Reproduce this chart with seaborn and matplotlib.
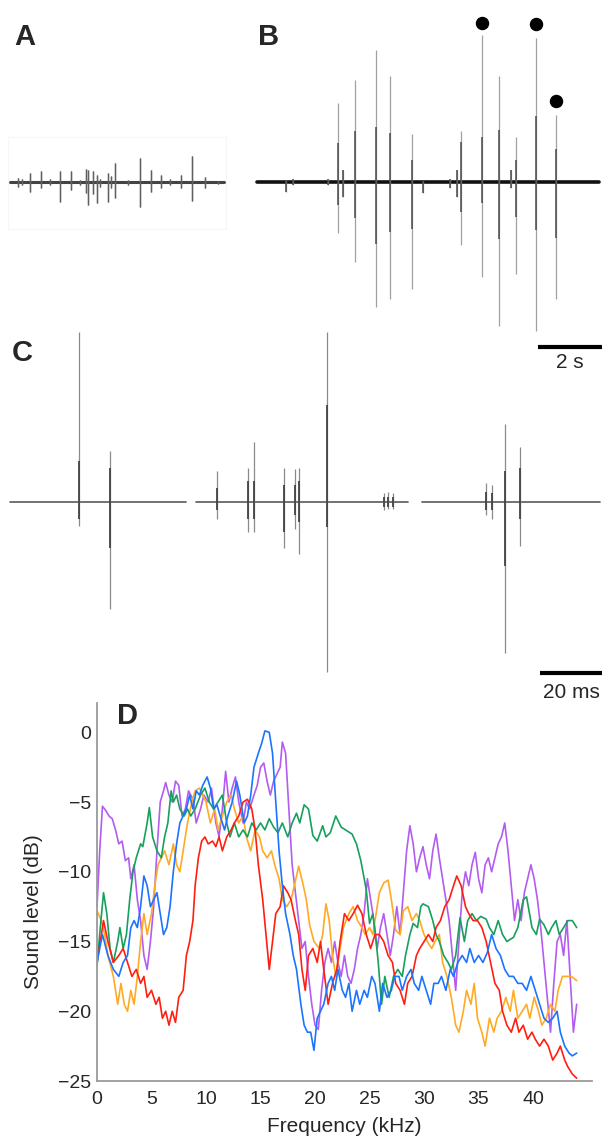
import numpy as np
import pandas as pd
import matplotlib
matplotlib.use('Agg')
import matplotlib.pyplot as plt
import seaborn as sns

# ---- panel A: spikes of a song fragment (time in s, amplitude in arbitrary units)
a_start, a_end = 0.0, 6.69
a_t = [0.26, 0.36, 0.63, 0.96, 1.25, 1.57, 1.91, 2.19, 2.38, 2.43, 2.60, 2.73, 2.81,
       3.07, 3.16, 3.28, 3.70, 4.06, 4.41, 4.72, 5.00, 5.34, 5.70, 6.09, 6.51]
a_up = [0.025, 0.02, 0.062, 0.073, 0.02, 0.073, 0.073, 0.015, 0.085, 0.08, 0.073, 0.047, 0.02,
        0.062, 0.04, 0.125, 0.015, 0.162, 0.08, 0.047, 0.02, 0.047, 0.173, 0.035, 0.01]
a_down = [0.031, 0.02, 0.064, 0.042, 0.02, 0.135, 0.053, 0.02, 0.075, 0.153, 0.082, 0.142, 0.03,
          0.135, 0.04, 0.104, 0.02, 0.164, 0.064, 0.038, 0.02, 0.042, 0.127, 0.038, 0.01]

# ---- panel B
b_start, b_end = -0.04, 10.66
b_t = [0.86, 1.10, 2.20, 2.51, 2.67, 3.02, 3.68, 4.13, 4.81, 5.17, 6.00, 6.21, 6.34,
       7.01, 7.54, 7.90, 8.06, 8.68, 9.31]
b_up = [0.013, 0.02, 0.02, 0.53, 0.08, 0.68, 0.88, 0.71, 0.32, 0.01, 0.02, 0.08, 0.34,
        0.98, 0.71, 0.08, 0.30, 0.96, 0.45]
b_down = [0.064, 0.02, 0.02, 0.34, 0.10, 0.53, 0.83, 0.78, 0.71, 0.075, 0.04, 0.10, 0.42,
          0.63, 0.96, 0.04, 0.61, 0.99, 0.78]
b_core_up = [0.013, 0.02, 0.02, 0.26, 0.08, 0.34, 0.37, 0.33, 0.15, 0.01, 0.02, 0.08, 0.27,
             0.30, 0.35, 0.08, 0.15, 0.44, 0.22]
b_core_down = [0.064, 0.02, 0.02, 0.15, 0.10, 0.24, 0.41, 0.33, 0.31, 0.075, 0.04, 0.10, 0.20,
               0.14, 0.38, 0.04, 0.23, 0.32, 0.37]
dot_t = [7.01, 8.68, 9.31]
dot_y = [1.058, 1.051, 0.54]

# ---- panel C (time in ms)
c_starts = [0.0, 60.0, 132.9]
c_ends = [56.8, 128.4, 190.3]
c_t = [22.4, 32.4, 66.9, 76.9, 78.7, 88.5, 91.9, 93.3, 102.3, 120.6, 122.0, 123.5,
       153.6, 155.5, 159.6, 164.5]
c_up = [1.00, 0.30, 0.18, 0.20, 0.35, 0.20, 0.19, 0.20, 1.00, 0.05, 0.06, 0.05,
        0.11, 0.10, 0.46, 0.32]
c_down = [0.14, 0.63, 0.10, 0.18, 0.18, 0.27, 0.16, 0.31, 1.00, 0.05, 0.045, 0.04,
          0.08, 0.10, 0.89, 0.26]
c_core_up = [0.24, 0.20, 0.08, 0.12, 0.12, 0.10, 0.10, 0.12, 0.57, 0.03, 0.03, 0.03,
             0.06, 0.05, 0.18, 0.20]
c_core_down = [0.10, 0.27, 0.05, 0.10, 0.10, 0.18, 0.08, 0.12, 0.15, 0.03, 0.03, 0.03,
               0.05, 0.05, 0.38, 0.10]

# ---- panel D: spectra (kHz, dB)
purple_f = [0, 0.25, 0.5, 0.8, 1.1, 1.4, 1.7, 2.0, 2.3, 2.6,
            2.9, 3.1, 3.4, 3.7, 4.0, 4.3, 4.6, 4.9, 5.2, 5.5,
            5.8, 6.1, 6.3, 6.6, 6.9, 7.2, 7.5, 7.8, 8.1, 8.4,
            8.8, 9.1, 9.5, 9.8, 10.2, 10.5, 10.9, 11.2, 11.5, 11.8,
            12.1, 12.4, 12.7, 13.0, 13.4, 13.7, 14.0, 14.4, 14.7, 15.0,
            15.3, 15.6, 15.9, 16.2, 16.5, 16.8, 17.0, 17.3, 17.6, 17.9,
            18.2, 18.5, 18.8, 19.1, 19.4, 19.7, 20.0, 20.3, 20.6, 20.9,
            21.2, 21.5, 21.8, 22.1, 22.4, 22.7, 23.0, 23.3, 23.6, 23.9,
            24.2, 24.5, 24.8, 25.1, 25.4, 25.7, 26.0, 26.3, 26.6, 26.9,
            27.2, 27.5, 27.8, 28.1, 28.4, 28.7, 29.0, 29.3, 29.6, 29.9,
            30.2, 30.5, 30.8, 31.1, 31.4, 31.7, 32.0, 32.3, 32.6, 32.9,
            33.2, 33.5, 33.8, 34.1, 34.4, 34.7, 35.0, 35.3, 35.6, 35.9,
            36.2, 36.5, 36.8, 37.1, 37.4, 37.7, 38.0, 38.3, 38.6, 38.9,
            39.2, 39.5, 39.8, 40.1, 40.4, 40.7, 41.0, 41.3, 41.6, 41.9,
            42.2, 42.5, 42.8, 43.1, 43.4, 43.7, 44.0]
purple_db = [-12.5, -8.5, -5.3, -5.6, -6.0, -6.2, -7.0, -8.0, -7.8, -9.2,
             -9.0, -10.5, -9.5, -12.0, -13.5, -16.0, -17.0, -15.0, -12.5, -8.5,
             -5.0, -4.2, -3.6, -4.5, -5.0, -3.5, -3.8, -6.0, -5.5, -4.2,
             -4.8, -6.5, -5.5, -4.5, -5.0, -4.0, -6.5, -7.5, -5.5, -2.8,
             -5.0, -4.0, -3.2, -5.0, -6.5, -5.0, -5.5, -4.5, -3.8, -2.5,
             -2.2, -3.5, -4.5, -3.5, -3.0, -2.5, -0.7, -1.5, -5.5, -9.5,
             -11.5, -13.5, -15.5, -15.0, -17.5, -19.5, -21.0, -21.3, -18.5, -16.5,
             -15.5, -16.5, -15.0, -16.5, -17.5, -16.0, -17.5, -18.0, -17.0, -15.5,
             -14.5, -13.0, -10.5, -12.0, -13.5, -15.5, -14.0, -13.0, -14.5, -16.0,
             -14.5, -12.5, -14.5, -11.5, -8.5, -6.7, -8.0, -10.0, -9.0, -8.2,
             -9.5, -10.5, -8.5, -7.3, -9.0, -10.5, -12.0, -13.5, -16.0, -18.5,
             -15.0, -11.5, -10.0, -11.0, -9.5, -8.6, -10.5, -11.5, -9.5, -9.0,
             -10.0, -9.0, -8.0, -7.5, -6.5, -8.5, -11.0, -13.5, -12.0, -13.5,
             -11.5, -10.5, -9.5, -10.5, -12.0, -14.0, -16.5, -19.0, -21.5, -18.0,
             -15.0, -14.5, -16.0, -13.5, -17.5, -21.5, -19.5]

green_f = [0, 0.3, 0.6, 0.9, 1.2, 1.5, 1.9, 2.1, 2.4, 2.7,
           3.0, 3.3, 3.6, 4.0, 4.2, 4.6, 4.8, 5.1, 5.5, 5.9,
           6.2, 6.5, 6.8, 7.0, 7.3, 7.6, 8.0, 8.3, 8.6, 9.0,
           9.5, 9.9, 10.3, 10.7, 11.1, 11.5, 11.9, 12.2, 12.6, 13.0,
           13.4, 13.8, 14.2, 14.6, 15.0, 15.4, 15.8, 16.2, 16.6, 17.0,
           17.5, 17.9, 18.3, 18.6, 19.0, 19.4, 19.8, 20.2, 20.7, 21.0,
           21.4, 21.9, 22.4, 22.8, 23.4, 23.8, 24.2, 24.7, 25.0, 25.3,
           25.6, 25.8, 26.1, 26.4, 26.8, 27.2, 27.6, 28.0, 28.3, 28.7,
           29.0, 29.4, 29.7, 29.9, 30.4, 30.8, 31.1, 31.4, 31.8, 32.2,
           32.5, 32.9, 33.3, 33.7, 34.0, 34.4, 34.8, 35.2, 35.7, 36.0,
           36.4, 36.8, 37.2, 37.6, 38.2, 38.6, 39.1, 39.4, 39.9, 40.3,
           40.6, 41.0, 41.4, 41.7, 42.1, 42.4, 42.8, 43.2, 43.6, 44.0]
green_db = [-16.8, -14.0, -11.5, -13.0, -15.5, -16.5, -15.0, -14.0, -15.5, -14.5,
            -12.0, -10.0, -9.0, -8.0, -8.2, -6.5, -5.4, -7.5, -8.5, -9.0,
            -7.5, -6.5, -4.2, -5.0, -4.5, -5.5, -6.0, -5.5, -6.0, -5.5,
            -4.5, -4.0, -5.0, -5.5, -5.0, -4.5, -6.5, -7.5, -6.5, -7.5,
            -7.0, -7.5, -6.5, -7.0, -6.5, -7.0, -6.2, -6.8, -7.2, -6.5,
            -7.5, -6.5, -5.8, -6.5, -5.2, -5.5, -7.4, -7.8, -6.7, -7.5,
            -7.2, -6.0, -6.8, -7.0, -7.3, -8.0, -9.2, -11.3, -13.7, -13.0,
            -15.0, -16.5, -19.5, -17.5, -19.0, -17.5, -17.0, -17.5, -16.0, -14.5,
            -13.7, -14.0, -12.5, -12.3, -12.5, -13.5, -14.5, -15.0, -16.0, -16.5,
            -17.0, -16.0, -13.3, -15.0, -13.5, -13.0, -13.5, -13.2, -13.4, -14.0,
            -14.5, -13.5, -14.5, -15.0, -14.7, -14.0, -12.0, -11.8, -14.0, -14.5,
            -13.4, -13.8, -14.5, -14.0, -13.5, -14.5, -14.0, -13.5, -13.5, -14.0]

orange_f = [0, 0.4, 0.7, 1.0, 1.5, 1.9, 2.2, 2.5, 2.8, 3.1,
            3.4, 3.7, 4.0, 4.3, 4.6, 5.0, 5.3, 5.6, 5.9, 6.2,
            6.6, 7.0, 7.3, 7.6, 8.0, 8.3, 8.7, 9.0, 9.4, 9.7,
            10.0, 10.4, 10.8, 11.1, 11.5, 11.9, 12.3, 12.6, 13.0, 13.4,
            13.7, 14.1, 14.5, 14.9, 15.2, 15.6, 16.0, 16.3, 16.7, 17.0,
            17.4, 17.8, 18.1, 18.5, 18.9, 19.2, 19.5, 19.9, 20.4, 20.7,
            21.0, 21.3, 21.6, 21.9, 22.2, 22.6, 23.1, 23.5, 23.9, 24.3,
            24.6, 25.0, 25.3, 25.6, 25.9, 26.3, 26.7, 27.0, 27.4, 27.8,
            28.1, 28.5, 28.9, 29.3, 29.6, 30.0, 30.3, 30.7, 31.0, 31.4,
            31.7, 32.1, 32.5, 32.9, 33.2, 33.6, 33.9, 34.3, 34.6, 34.9,
            35.3, 35.6, 36.0, 36.4, 36.7, 37.1, 37.5, 37.9, 38.2, 38.6,
            39.0, 39.4, 39.7, 40.1, 40.5, 40.8, 41.2, 41.6, 42.0, 42.3,
            42.7, 43.1, 43.5, 44.0]
orange_db = [-12.8, -13.5, -14.5, -16.0, -17.5, -19.5, -18.0, -19.5, -20.0, -18.5,
             -19.5, -17.5, -15.0, -13.0, -14.5, -13.0, -11.0, -9.5, -9.0, -8.5,
             -9.5, -8.0, -9.5, -10.0, -8.0, -6.5, -5.0, -4.2, -4.0, -4.5,
             -5.0, -6.5, -5.5, -7.0, -6.0, -5.0, -4.5, -5.5, -6.5, -6.0,
             -7.5, -8.5, -7.0, -7.5, -8.5, -9.0, -8.5, -9.5, -10.5, -12.0,
             -12.5, -12.0, -11.0, -9.6, -10.9, -12.0, -13.8, -15.0, -15.5, -14.5,
             -12.3, -13.5, -16.0, -17.5, -16.0, -14.0, -13.0, -12.5, -13.5, -14.0,
             -14.5, -14.0, -14.5, -13.0, -11.5, -10.8, -10.6, -12.0, -14.2, -14.5,
             -12.8, -12.5, -13.5, -13.0, -13.5, -14.5, -15.0, -15.5, -15.0, -14.5,
             -16.5, -17.5, -19.0, -21.0, -21.5, -20.0, -18.5, -19.5, -18.0, -20.5,
             -21.5, -22.5, -20.5, -21.5, -20.5, -20.0, -19.0, -20.0, -18.5, -20.5,
             -20.0, -19.5, -20.5, -19.0, -20.0, -21.0, -20.5, -19.5, -20.0, -18.5,
             -17.5, -17.5, -17.5, -17.8]

red_f = [0, 0.3, 0.6, 1.0, 1.5, 2.0, 2.4, 2.8, 3.2, 3.6,
         4.0, 4.3, 4.6, 5.0, 5.4, 5.7, 6.0, 6.3, 6.6, 6.9,
         7.2, 7.5, 7.9, 8.2, 8.5, 8.8, 9.0, 9.3, 9.6, 9.9,
         10.2, 10.6, 10.9, 11.2, 11.5, 11.9, 12.3, 12.6, 13.0, 13.4,
         13.8, 14.2, 14.5, 14.8, 15.2, 15.5, 15.8, 16.1, 16.4, 16.8,
         17.1, 17.5, 17.8, 18.2, 18.5, 18.8, 19.1, 19.4, 19.8, 20.2,
         20.5, 20.8, 21.2, 21.6, 22.0, 22.3, 22.7, 23.1, 23.5, 23.9,
         24.3, 24.7, 25.1, 25.5, 25.9, 26.3, 26.7, 27.1, 27.4, 27.8,
         28.2, 28.5, 28.9, 29.3, 29.6, 30.0, 30.4, 30.8, 31.1, 31.5,
         31.9, 32.3, 32.7, 33.0, 33.4, 33.8, 34.1, 34.5, 34.9, 35.3,
         35.7, 36.1, 36.5, 36.9, 37.2, 37.6, 38.0, 38.4, 38.7, 39.1,
         39.5, 39.9, 40.2, 40.6, 41.0, 41.4, 41.8, 42.2, 42.5, 42.9,
         43.2, 43.6, 44.0]
red_db = [-16.5, -15.0, -13.5, -15.0, -16.5, -16.0, -15.5, -16.5, -17.5, -17.0,
          -18.0, -17.5, -19.0, -18.5, -19.5, -19.0, -20.5, -20.0, -21.0, -20.0,
          -20.8, -19.0, -18.5, -16.0, -15.0, -13.5, -11.0, -9.0, -7.8, -7.5,
          -8.0, -7.8, -8.2, -7.5, -8.5, -7.5, -7.0, -6.5, -6.0, -5.0,
          -4.8, -5.5, -7.0, -9.5, -12.0, -14.5, -17.0, -15.0, -13.0, -12.5,
          -11.0, -11.5, -12.0, -13.5, -14.5, -17.0, -18.5, -16.0, -15.5, -16.5,
          -15.0, -17.0, -19.5, -18.0, -17.0, -15.0, -13.0, -13.5, -13.0, -12.4,
          -13.0, -14.5, -15.5, -14.5, -14.5, -15.0, -16.0, -16.5, -18.0, -18.5,
          -19.5, -18.0, -17.5, -16.0, -15.5, -15.0, -14.5, -15.0, -14.0, -13.5,
          -12.5, -12.0, -11.0, -10.3, -11.0, -12.5, -13.0, -13.5, -13.5, -14.0,
          -15.0, -16.5, -18.0, -18.5, -20.0, -21.0, -21.5, -20.5, -21.5, -21.0,
          -22.0, -21.5, -22.0, -22.5, -22.0, -22.5, -23.5, -23.0, -22.5, -23.5,
          -24.0, -24.5, -24.8]

blue_f = [0, 0.5, 1.0, 1.5, 2.0, 2.4, 2.8, 3.1, 3.4, 3.7,
          4.0, 4.3, 4.6, 4.9, 5.2, 5.5, 5.8, 6.1, 6.4, 6.7,
          7.0, 7.3, 7.6, 7.9, 8.2, 8.5, 8.8, 9.1, 9.4, 9.7,
          10.1, 10.4, 10.7, 11.0, 11.3, 11.7, 12.0, 12.4, 12.8, 13.1,
          13.5, 13.8, 14.1, 14.4, 14.8, 15.1, 15.4, 15.8, 16.1, 16.4,
          16.7, 17.0, 17.3, 17.7, 18.0, 18.3, 18.7, 19.0, 19.3, 19.6,
          19.9, 20.2, 20.5, 20.8, 21.2, 21.5, 21.8, 22.1, 22.5, 22.8,
          23.1, 23.4, 23.8, 24.1, 24.5, 24.8, 25.2, 25.5, 25.9, 26.2,
          26.6, 27.0, 27.3, 27.7, 28.0, 28.4, 28.8, 29.1, 29.5, 29.8,
          30.2, 30.6, 30.9, 31.3, 31.6, 32.0, 32.4, 32.7, 33.1, 33.5,
          33.9, 34.2, 34.6, 35.0, 35.4, 35.8, 36.2, 36.6, 37.0, 37.4,
          37.8, 38.2, 38.6, 39.0, 39.4, 39.8, 40.2, 40.6, 41.0, 41.4,
          41.8, 42.2, 42.5, 42.9, 43.3, 43.6, 44.0]
blue_db = [-16.5, -14.5, -16.0, -17.0, -17.5, -16.5, -16.0, -14.0, -13.5, -14.0,
           -12.5, -10.3, -11.0, -12.5, -12.0, -11.5, -13.0, -14.5, -14.0, -12.5,
           -10.0, -8.0, -6.5, -6.0, -5.5, -4.5, -5.5, -4.2, -4.5, -3.8,
           -3.2, -4.0, -5.5, -5.2, -6.0, -7.0, -6.0, -5.0, -3.5, -4.5,
           -6.5, -6.0, -4.5, -2.5, -1.5, -0.8, 0.1, 0.0, -1.5, -5.0,
           -8.5, -11.0, -13.0, -14.5, -16.0, -17.0, -19.5, -21.0, -21.5, -21.5,
           -22.8, -20.5, -20.0, -19.5, -18.0, -17.5, -18.5, -17.0, -18.5, -19.0,
           -18.0, -20.0, -18.5, -19.5, -18.5, -19.0, -17.5, -18.0, -20.0, -18.0,
           -19.0, -18.5, -17.5, -17.5, -18.5, -17.5, -17.0, -18.0, -18.5, -17.5,
           -18.5, -19.5, -18.0, -18.0, -17.5, -18.5, -17.0, -17.5, -16.5, -16.0,
           -16.5, -15.5, -16.5, -16.0, -16.5, -15.8, -14.5, -15.5, -16.0, -17.0,
           -17.5, -17.5, -18.0, -18.0, -18.5, -17.5, -18.5, -19.5, -20.5, -20.8,
           -20.5, -20.0, -21.5, -22.5, -23.0, -23.2, -23.0]

freq_ticks = [0, 5, 10, 15, 20, 25, 30, 35, 40]
level_ticks = [-25, -20, -15, -10, -5, 0]

# ------------------------------------------------------------------ layout
sns.set_style('white')
plt.rcParams['font.family'] = ['Liberation Sans', 'DejaVu Sans']

W, H = 605, 1139
fig = plt.figure(figsize=(W / 100, H / 100), dpi=100)


def add_ax(l, t, r, b):
    ax = fig.add_axes([l / W, 1 - b / H, (r - l) / W, (b - t) / H])
    ax.patch.set_alpha(0)
    return ax


def draw_trace(ax, t0, t1, t, up, down, core_up, core_down,
               base_color, base_lw, spike_color, core_color, core_lw):
    base = pd.DataFrame({'t': [t0, t1], 'v': [0.0, 0.0]})
    sns.lineplot(data=base, x='t', y='v', ax=ax, color=base_color, lw=base_lw,
                 estimator=None, sort=False)
    ax.vlines(t, -np.asarray(down), up, color=spike_color, lw=0.9)
    ax.vlines(t, -np.asarray(core_down), core_up, color=core_color, lw=core_lw)


# A and B share 32 px per second, 150 px per amplitude unit
pps, ppa = 32, 150.0
base_ab = 182

ax_a = add_ax(8, 137, 226, 229)
draw_trace(ax_a, a_start, a_end, a_t, a_up, a_down, a_up, a_down,
           '#444444', 2.2, '#707070', '#606060', 1.0)
ax_a.set_xlim((8 - 10) / pps, (226 - 10) / pps)
ax_a.set_ylim(-(229 - base_ab) / ppa, (base_ab - 137) / ppa)
ax_a.set_xticks([]); ax_a.set_yticks([])
ax_a.set_xlabel(''); ax_a.set_ylabel('')
for s in ax_a.spines.values():
    s.set_color('#f6f6f6'); s.set_linewidth(0.8)

ax_b = add_ax(250, 10, 605, 345)
draw_trace(ax_b, b_start, b_end, b_t, b_up, b_down, b_core_up, b_core_down,
           '#111111', 2.6, '#a0a0a0', '#4a4a4a', 1.1)
ax_b.scatter(dot_t, dot_y, s=75, color='black', clip_on=False, zorder=5)
ax_b.set_xlim((250 - 258) / pps, (605 - 258) / pps)
ax_b.set_ylim(-(345 - base_ab) / ppa, (base_ab - 10) / ppa)
ax_b.set_axis_off()
bar_b = 2  # seconds
xb1 = (602 - 258) / pps
ax_b.plot([xb1 - bar_b, xb1], [-(347 - base_ab) / ppa] * 2, color='black', lw=3,
          solid_capstyle='butt', clip_on=False)
ax_b.text(xb1 - bar_b / 2, -(363 - base_ab) / ppa, '2 s', ha='center', va='center',
          fontsize=15)

# C: 3.1 px per ms, 170 px per amplitude unit
ppm, ppc = 3.1, 170.0
base_c = 501.7
ax_c = add_ax(5, 320, 605, 698)
for s0, s1 in zip(c_starts, c_ends):
    seg = pd.DataFrame({'t': [s0, s1], 'v': [0.0, 0.0]})
    sns.lineplot(data=seg, x='t', y='v', ax=ax_c, color='#5a5a5a', lw=1.2,
                 estimator=None, sort=False)
ax_c.vlines(c_t, -np.asarray(c_down), c_up, color='#8a8a8a', lw=0.9)
ax_c.vlines(c_t, -np.asarray(c_core_down), c_core_up, color='#444444', lw=1.3)
ax_c.set_xlim((5 - 10) / ppm, (605 - 10) / ppm)
ax_c.set_ylim(-(698 - base_c) / ppc, (base_c - 320) / ppc)
ax_c.set_axis_off()
bar_c = 20  # ms
xc1 = (602 - 10) / ppm
ax_c.plot([xc1 - bar_c, xc1], [-(673 - base_c) / ppc] * 2, color='black', lw=3,
          solid_capstyle='butt', clip_on=False)
ax_c.text(xc1 - bar_c / 2, -(693 - base_c) / ppc, '20 ms', ha='center', va='center',
          fontsize=15)

# D: spectra
series = [('purple', purple_f, purple_db), ('orange', orange_f, orange_db),
          ('green', green_f, green_db), ('red', red_f, red_db),
          ('blue', blue_f, blue_db)]
palette = {'purple': '#b35cf0', 'orange': '#ffaa25', 'green': '#17a05d',
           'red': '#ff1e0f', 'blue': '#1b74ff'}
spec = pd.concat([pd.DataFrame({'freq': f, 'level': d, 'call': name})
                  for name, f, d in series], ignore_index=True)

ax_d = add_ax(97, 703, 592, 1081)
sns.lineplot(data=spec, x='freq', y='level', hue='call', palette=palette,
             estimator=None, sort=False, lw=1.2, legend=False, ax=ax_d)
ax_d.set_xlim(0, (592 - 98) / 10.88)
ax_d.set_ylim(-25, 2.1)
ax_d.set_xticks(freq_ticks)
ax_d.set_yticks(level_ticks)
ax_d.tick_params(length=0, labelsize=14)
ax_d.tick_params(axis='x', pad=7)
ax_d.tick_params(axis='y', pad=4)
for side in ['top', 'right']:
    ax_d.spines[side].set_visible(False)
for side in ['left', 'bottom']:
    ax_d.spines[side].set_color('#9a9a9a')
    ax_d.spines[side].set_linewidth(1.3)
ax_d.set_xlabel('Frequency (kHz)', fontsize=15)
ax_d.set_ylabel('Sound level (dB)', fontsize=15)
ax_d.xaxis.set_label_coords(0.5, -0.095)
ax_d.yaxis.set_label_coords(-0.109, 0.447)

# panel letters
for letter, x, y in [('A', 14, 45), ('B', 258, 45), ('C', 12, 361), ('D', 117, 724)]:
    fig.text(x / W, 1 - y / H, letter, ha='left', va='baseline', fontsize=21,
             fontweight='bold')

fig.savefig('out.png', dpi=100)
